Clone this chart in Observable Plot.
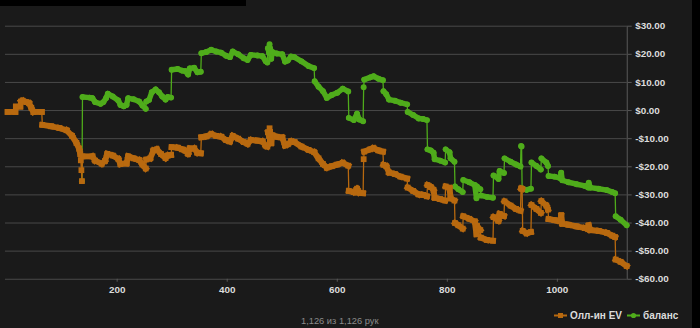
<!DOCTYPE html>
<html><head><meta charset="utf-8">
<script src="https://cdn.jsdelivr.net/npm/d3@7"></script>
<script src="https://cdn.jsdelivr.net/npm/@observablehq/plot@0.6"></script>
<style>
html,body{margin:0;padding:0;background:#000;}
#panel{position:relative;width:692px;height:328px;background:#1a1a1a;overflow:hidden;font-family:"Liberation Sans",Arial,sans-serif;}
#topbar{position:absolute;left:0;top:0;width:246px;height:6px;background:#000;}
#chart{position:absolute;left:0;top:0;}
#chart svg{display:block;overflow:visible;}
#caption{position:absolute;left:301px;top:316px;font-size:9.3px;color:#8a8a8a;white-space:nowrap;}
.leg{position:absolute;top:310px;font-size:10px;font-weight:bold;color:#dcdcdc;white-space:nowrap;display:flex;align-items:center;}
.leg svg{margin-right:3px;}
</style>
</head><body>
<div id="panel">
  <div id="chart"></div>
  <div id="topbar"></div>
  <div id="caption"></div>
  <div id="leg1" class="leg" style="left:554px"></div>
  <div id="leg2" class="leg" style="left:627px"></div>
</div>
<script>
// ---- data ----
const seriesNames = ["Олл-ин EV", "баланс"];
const seriesColors = ["#b8690f", "#4fac1b"];
const captionText = "1,126 из 1,126 рук";
const xTicks = [200, 400, 600, 800, 1000];
const yTicks = [-60, -50, -40, -30, -20, -10, 0, 10, 20, 30];

const evHands = [1,15,16,24,25,28,35,40,44,48,63,64,80,95,108,118,126,131,133,134,135,136,137,155,160,172,178,182,192,202,206,217,220,230,240,246,252,253,260,266,272,280,288,292,298,299,310,318,324,329,332,340,346,352,353,362,371,380,389,398,405,410,420,430,437,443,455,464,470,473,474,476,477,478,480,482,490,500,505,510,516,522,535,548,558,566,574,581,590,600,610,620,621,630,636,640,647,648,649,660,666,675,683,684,689,694,705,715,727,728,738,748,756,763,764,770,775,777,787,796,797,804,806,813,814,820,828,829,840,850,853,854,860,861,872,883,884,893,895,903,904,915,925,933,934,936,937,944,952,953,962,970,971,980,983,984,995,1005,1007,1009,1020,1035,1050,1056,1057,1060,1075,1090,1100,1105,1106,1115,1126];
const evValues = [-0.5,-0.5,1.4,1.4,3.2,3.5,3.0,2.6,1.0,-0.5,-0.5,-5.1,-5.6,-6.2,-7.0,-9.0,-11.5,-13.6,-15.5,-17.7,-21.2,-25.1,-16.3,-16.3,-17.8,-18.9,-17.9,-15.4,-16.0,-17.2,-19.0,-18.8,-16.3,-17.0,-17.6,-19.2,-20.6,-17.4,-17.0,-14.2,-13.8,-15.5,-16.9,-16.0,-15.8,-13.0,-13.2,-13.8,-14.3,-15.4,-13.5,-13.5,-15.0,-15.2,-9.5,-9.2,-8.4,-9.0,-9.3,-10.5,-11.0,-9.0,-10.0,-11.2,-11.8,-10.5,-10.7,-11.0,-12.5,-12.8,-7.7,-9.0,-6.3,-7.7,-11.6,-8.8,-9.3,-9.6,-12.4,-12.0,-11.0,-11.2,-12.8,-14.0,-14.8,-17.0,-19.0,-20.3,-19.8,-19.2,-18.6,-19.6,-28.6,-29.0,-27.8,-29.2,-29.4,-17.3,-14.6,-13.8,-13.4,-14.2,-14.6,-19.3,-19.8,-22.0,-22.6,-23.5,-24.2,-27.4,-28.6,-29.8,-30.0,-30.5,-26.5,-27.2,-28.3,-31.0,-31.5,-32.0,-27.0,-27.5,-31.2,-32.0,-40.0,-40.8,-42.0,-37.6,-38.5,-39.5,-44.0,-41.0,-42.5,-45.2,-46.0,-46.3,-37.9,-39.2,-36.8,-37.5,-32.3,-33.8,-35.0,-35.6,-27.7,-27.9,-42.8,-43.6,-43.2,-33.6,-35.0,-36.4,-32.2,-33.8,-35.2,-38.6,-39.0,-39.4,-37.3,-40.2,-40.6,-41.2,-41.8,-42.2,-40.8,-42.5,-42.8,-43.5,-44.5,-45.0,-53.0,-53.8,-55.3];

const balHands = [136,137,150,155,160,170,175,180,183,192,202,206,212,217,220,230,240,246,252,253,258,263,270,276,282,288,292,298,299,310,318,324,329,332,340,346,352,353,362,371,380,389,398,405,410,420,430,437,443,455,464,470,473,474,476,477,478,480,482,490,500,505,510,516,522,535,548,558,559,566,574,581,590,600,610,620,621,630,636,640,647,648,649,660,666,675,683,684,689,694,705,715,727,728,738,748,756,763,764,770,775,777,787,796,797,804,806,813,814,820,828,829,840,850,853,854,860,861,872,883,884,893,895,903,904,915,925,933,934,935,936,944,952,953,962,970,971,980,983,984,995,1005,1007,1009,1020,1035,1050,1056,1057,1060,1075,1090,1100,1105,1106,1115,1126];
const balValues = [-25.1,4.8,4.6,4.4,3.0,2.4,3.0,4.5,6.0,5.0,3.6,2.0,1.5,2.0,4.4,4.0,3.2,1.8,0.6,3.2,3.8,6.5,7.5,6.5,5.0,3.9,4.8,4.6,14.5,14.8,14.2,14.0,12.8,15.0,15.2,13.6,13.8,20.4,20.8,21.6,21.0,20.6,19.5,19.0,21.0,20.0,18.6,18.0,19.8,19.6,19.3,17.5,17.1,22.2,20.5,23.6,22.2,18.4,20.8,20.3,20.0,17.4,17.8,19.2,19.0,17.5,15.8,15.1,10.4,8.5,6.9,4.5,5.5,6.3,7.8,6.8,-2.6,-3.4,-1.1,-3.2,-3.8,8.3,11.0,11.8,12.2,11.3,10.8,6.9,5.8,3.9,3.5,2.8,2.2,-0.5,-1.6,-2.8,-3.0,-3.4,-13.8,-14.2,-15.0,-17.3,-17.8,-18.5,-13.8,-14.8,-17.0,-18.2,-27.0,-28.0,-29.0,-24.7,-25.5,-26.5,-31.2,-27.0,-28.0,-30.2,-30.7,-31.0,-23.1,-24.3,-21.5,-22.2,-17.0,-18.2,-19.2,-19.9,-12.6,-12.8,-27.7,-28.2,-27.8,-18.5,-19.7,-21.0,-17.0,-18.5,-19.7,-23.3,-23.5,-24.0,-22.1,-24.8,-25.5,-26.2,-26.8,-27.4,-25.7,-27.4,-27.8,-28.3,-29.0,-29.4,-37.6,-38.8,-40.8];

// ---- build tables ----
const toRows = (hs, vs) => hs.map((h, i) => ({h, v: vs[i]}));
const evRows = toRows(evHands, evValues);
const balRows = toRows(balHands, balValues);
// continuous stretches (several hands apart) are drawn as a thick band, single-hand jumps stay thin
function bands(rows) {
  const out = [];
  for (let i = 1; i < rows.length; i++) {
    if (rows[i].h - rows[i-1].h >= 2) out.push({x1: rows[i-1].h, y1: rows[i-1].v, x2: rows[i].h, y2: rows[i].v});
  }
  return out;
}
const money = d => (d < 0 ? "-" : "") + "$" + Math.abs(d).toFixed(2);

const chart = Plot.plot({
  width: 700,
  height: 305,
  marginLeft: 5,
  marginRight: 66,
  marginTop: 26,
  marginBottom: 23,
  style: {background: "transparent", color: "#dcdcdc", fontFamily: "Liberation Sans, Arial, sans-serif"},
  x: {domain: [-3, 1127]},
  y: {domain: [-60, 30]},
  marks: [
    Plot.gridY(yTicks, {stroke: "#4a4a4a", strokeOpacity: 1, strokeWidth: 1}),
    Plot.frame({anchor: "right", stroke: "#5a5a5a"}),
    Plot.axisY(yTicks, {anchor: "right", tickFormat: money, tickSize: 4, tickPadding: 4, stroke: "#5a5a5a", fill: "#dcdcdc", fontSize: 10, fontWeight: "bold", label: null}),
    Plot.axisX(xTicks, {anchor: "bottom", tickFormat: d => String(d), tickSize: 3, tickPadding: 4, stroke: "#5a5a5a", fill: "#dcdcdc", fontSize: 10, fontWeight: "bold", label: null}),
    // balance (green)
    Plot.line(balRows, {x: "h", y: "v", stroke: seriesColors[1], strokeWidth: 1.3}),
    Plot.link(bands(balRows), {x1: "x1", y1: "y1", x2: "x2", y2: "y2", stroke: seriesColors[1], strokeWidth: 5.5, strokeLinecap: "round"}),
    Plot.dot(balRows, {x: "h", y: "v", r: 3, fill: seriesColors[1], stroke: null}),
    // all-in EV (orange)
    Plot.line(evRows, {x: "h", y: "v", stroke: seriesColors[0], strokeWidth: 1.3}),
    Plot.link(bands(evRows), {x1: "x1", y1: "y1", x2: "x2", y2: "y2", stroke: seriesColors[0], strokeWidth: 6, strokeLinecap: "square"}),
    Plot.dot(evRows, {x: "h", y: "v", r: 3.3, symbol: "square", fill: seriesColors[0], stroke: null})
  ]
});
document.getElementById("chart").appendChild(chart);
document.getElementById("caption").textContent = captionText;

function swatch(color, square) {
  const m = square
    ? `<rect x="4" y="2" width="5" height="5" fill="${color}"/>`
    : `<circle cx="6.5" cy="4.5" r="2.6" fill="${color}"/>`;
  return `<svg width="13" height="9"><line x1="0" x2="13" y1="4.5" y2="4.5" stroke="${color}" stroke-width="2"/>${m}</svg>`;
}
document.getElementById("leg1").innerHTML = swatch(seriesColors[0], true) + `<span>${seriesNames[0]}</span>`;
document.getElementById("leg2").innerHTML = swatch(seriesColors[1], false) + `<span>${seriesNames[1]}</span>`;
</script>
</body></html>
